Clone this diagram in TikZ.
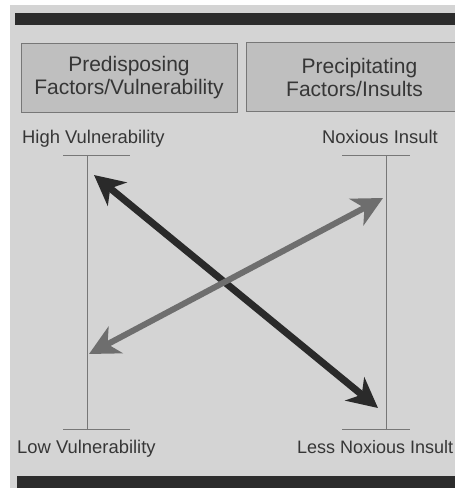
\documentclass[tikz,border=0pt]{standalone}
\usepackage{fontspec}
\setmainfont{Liberation Sans}
\usetikzlibrary{arrows.meta}

\definecolor{panelgrey}{HTML}{D4D4D4}
\definecolor{boxgrey}{HTML}{BFBFBF}
\definecolor{bargrey}{HTML}{2C2C2C}
\definecolor{linegrey}{HTML}{777777}
\definecolor{textgrey}{HTML}{363636}
\definecolor{darkarrow}{HTML}{2A2A2A}
\definecolor{lightarrow}{HTML}{6E6E6E}

\def \tickleft {24}
\def \tickright {43}

\begin{document}
\begin{tikzpicture}[x=1pt,y=-1pt,
  factorbox/.style={draw=linegrey, line width=1pt, fill=boxgrey, text=textgrey,
    font=\fontsize{21}{23}\selectfont, align=center, inner sep=0pt,
    minimum width=216, minimum height=69},
  endlabel/.style={text=textgrey, font=\fontsize{18.4}{20}\selectfont, inner sep=0pt, anchor=base west},
  scaleline/.style={draw=linegrey, line width=0.9pt},
  bigarrow/.style={line width=7pt,
    {Stealth[length=30pt,width=30pt,inset=9pt]}-{Stealth[length=30pt,width=30pt,inset=9pt]}}
]
\useasboundingbox (0,0) rectangle (455,488);
\fill[white] (0,0) rectangle (455,488);
\fill[panelgrey] (10,5) rectangle (455,488);

% top and bottom bars
\fill[bargrey] (15,13) rectangle (460,25);
\fill[bargrey] (17,476) rectangle (460,490);

% header boxes
\node[factorbox] (predisp) at (129,77.5) {Predisposing\\Factors/Vulnerability};
\node[factorbox, anchor=west, minimum width=226] (precip) at (246,77) {Precipitating\\Factors/Insults\hspace*{10pt}};

% scale ends
\node[endlabel] (highvul) at (22,143) {High Vulnerability};
\node[endlabel] (lowvul) at (17,453) {Low Vulnerability};
\node[endlabel] (noxious) at (322,143) {Noxious Insult};
\node[endlabel, font=\fontsize{18}{20}\selectfont] (lessnox) at (297,453) {Less Noxious Insult};

% vulnerability scale
\coordinate (vtop) at (87,155);
\coordinate (vbot) at (87,429);
\draw[scaleline] (vtop) -- (vbot);
\draw[scaleline] ([xshift=-\tickleft]vtop) -- ([xshift=\tickright]vtop);
\draw[scaleline] ([xshift=-\tickleft]vbot) -- ([xshift=\tickright]vbot);

% insult scale
\coordinate (itop) at (386,155);
\coordinate (ibot) at (386,429);
\draw[scaleline] (itop) -- (ibot);
\draw[scaleline] ([xshift=-\tickright-1]itop) -- ([xshift=\tickleft]itop);
\draw[scaleline] ([xshift=-\tickright-1]ibot) -- ([xshift=\tickleft]ibot);

% the two trade-off arrows
\coordinate (hightip) at (94,175);
\coordinate (lesstip) at (378,408);
\coordinate (lowtip) at (89,354);
\coordinate (noxtip) at (383,198);
\draw[bigarrow, darkarrow] (hightip) -- (lesstip);
\draw[bigarrow, lightarrow, line width=6pt] (lowtip) -- (noxtip);
\end{tikzpicture}
\end{document}
